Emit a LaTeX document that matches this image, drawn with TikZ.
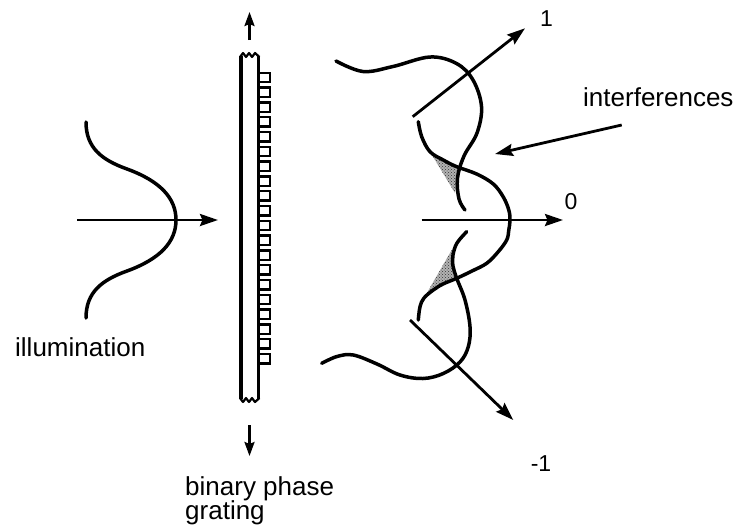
\documentclass[tikz,border=0pt]{standalone}
\usepackage{fontspec}
\setmainfont{Liberation Sans}
\usetikzlibrary{arrows.meta,patterns}
\begin{document}
\begin{tikzpicture}[x=1pt,y=-1pt,
  wave/.style={line width=3.5pt, line cap=round, line join=round},
  ray/.style={line width=2.8pt, -{Stealth[length=18pt,width=12pt,inset=2.5pt]}},
  shortray/.style={line width=2.4pt, -{Stealth[length=14pt,width=10pt,inset=2pt]}},
  rail/.style={line width=3pt},
  tooth/.style={line width=2.4pt},
  tornedge/.style={line width=2.2pt, line join=round},
  caption/.style={font=\fontsize{26}{30}\selectfont, inner sep=0pt},
  order/.style={font=\fontsize{23}{27}\selectfont, inner sep=0pt},
  overlap/.style={fill=black!30, postaction={pattern=crosshatch dots, pattern color=black!80}},
]
\useasboundingbox (0,0) rectangle (738,531);

% ---------- incoming beam ----------
\coordinate (illA) at (77,220);
\coordinate (illB) at (218,220);
\draw[wave] (86,122) .. controls (86,148) and (102,160) .. (127,169)
  .. controls (160,181) and (176,198) .. (176,220)
  .. controls (176,242) and (160,259) .. (127,271)
  .. controls (102,280) and (86,292) .. (86,318);
\draw[ray] (illA) -- (illB);
\node[caption, anchor=base west] (illum) at (15,356.7) {illumination};

% ---------- binary phase grating ----------
\draw[rail, line width=3.4pt] (241,56) -- (241,399);
\draw[rail] (258.5,56) -- (258.5,399);
\draw[tornedge] (240,57) -- (243,53) -- (246,57) -- (249,53) -- (252,57) -- (255,53) -- (259.5,57);
\draw[tornedge] (240,398) -- (243,402) -- (246,398) -- (249,402) -- (252,398) -- (255,402) -- (259.5,398);
\foreach \i in {0,...,19}{
  \draw[tooth] ({258.5},{72.7+14.8*\i}) -- ({270},{72.7+14.8*\i})
    -- ({270},{82.2+14.8*\i}) -- ({258.5},{82.2+14.8*\i});
}
\coordinate (gUpA) at (249.5,40);
\coordinate (gUpB) at (249.5,12);
\coordinate (gDnA) at (249.5,425);
\coordinate (gDnB) at (249.5,456);
\draw[shortray] (gUpA) -- (gUpB);
\draw[shortray] (gDnA) -- (gDnB);
\node[caption, anchor=base west] (gratingA) at (185,495) {binary phase};
\node[caption, anchor=base west] (gratingB) at (185,519) {grating};

% ---------- overlap of neighbouring orders ----------
\path[overlap] (430,151.7) -- (443.3,160) -- (457.5,167.5) -- (457.5,180) -- (455,193) -- cycle;
\path[overlap] (451.7,250) -- (452.5,262) -- (456.7,278.3) -- (443,284) -- (426.7,293.3) -- cycle;

% ---------- diffracted orders ----------
\draw[wave] plot[smooth, tension=0.6] coordinates {
  (336,61) (363,71.5) (393,66.5) (430,57) (456.5,63.5) (473,80) (481.5,106.5)
  (477,133) (464,156) (457.5,178) (459,199) (465,210)};
\draw[wave] plot[smooth, tension=0.6] coordinates {
  (418.3,121.7) (421.7,136.7) (430,151.7) (443.3,160) (456.7,166.7) (476.7,174)
  (493.3,184) (503.3,197) (508.8,210) (510,220) (508.8,230) (506.7,240) (498,252)
  (486.7,263.3) (472,271) (456.7,278.3) (443,284) (433.3,290) (424,298) (420,306.7) (418.3,320)};
\draw[wave] plot[smooth, tension=0.6] coordinates {
  (321.7,363.3) (337,356.5) (353.3,355) (377,364) (400,375) (423,378.5) (443.3,373.5)
  (460,362) (468.3,346.7) (470,326.7) (465,300) (456.7,278.3) (453,266) (453,255)
  (457,243) (466.7,231.7)};

\coordinate (o1A) at (412.7,116.7);
\coordinate (o1B) at (525,28.3);
\coordinate (o0A) at (421.7,220);
\coordinate (o0B) at (563,220);
\coordinate (omA) at (410,320);
\coordinate (omB) at (513.3,420);
\draw[ray] (o1A) -- (o1B);
\draw[ray] (o0A) -- (o0B);
\draw[ray] (omA) -- (omB);
\node[order] (lab1) at (546.5,19) {1};
\node[order] (lab0) at (571,202) {0};
\node[order] (labm1) at (541,464) {-1};

% ---------- interference label ----------
\node[caption, anchor=base west] (interf) at (583,106.7) {interferences};
\coordinate (inA) at (621.7,125);
\coordinate (inB) at (495,154);
\draw[ray] (inA) -- (inB);
\end{tikzpicture}
\end{document}
